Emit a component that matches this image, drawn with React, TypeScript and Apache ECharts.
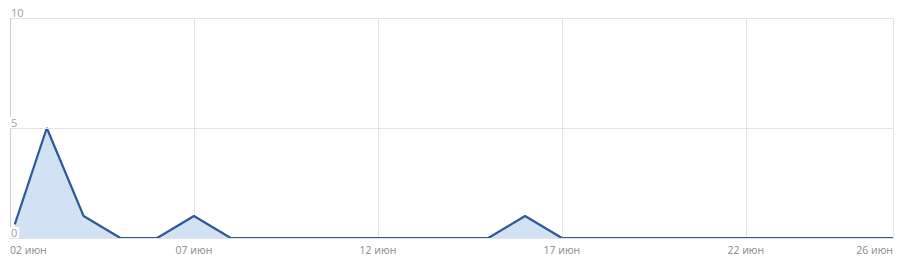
import React, { useEffect, useRef } from "react";
import * as echarts from "echarts";

const dateLabels = [
  "02 июн", "03 июн", "04 июн", "05 июн", "06 июн", "07 июн", "08 июн", "09 июн",
  "10 июн", "11 июн", "12 июн", "13 июн", "14 июн", "15 июн", "16 июн", "17 июн",
  "18 июн", "19 июн", "20 июн", "21 июн", "22 июн", "23 июн", "24 июн", "25 июн", "26 июн",
];
// day offset of each point from 02 июн (first sample starts a little after midnight)
const dayOffsets = [0.13, 1, 2, 3, 4, 5, 6, 7, 8, 9, 10, 11, 12, 13, 14, 15, 16, 17, 18, 19, 20, 21, 22, 23, 24];
const values = [0.62, 5, 1, 0, 0, 1, 0, 0, 0, 0, 0, 0, 0, 0, 1, 0, 0, 0, 0, 0, 0, 0, 0, 0, 0];
const yTicks = [0, 5, 10];

export default function App() {
  const ref = useRef<HTMLDivElement>(null);
  useEffect(() => {
    if (!ref.current) return;
    const chart = echarts.init(ref.current, null, { renderer: "svg" });
    const font = "'Open Sans', 'Noto Sans', sans-serif";
    chart.setOption({
      animation: false,
      grid: { left: 10, right: 7, top: 18, bottom: 24, containLabel: false },
      xAxis: {
        type: "value",
        min: 0,
        max: dateLabels.length - 1,
        interval: 5,
        axisLine: { show: true, lineStyle: { color: "#cfcfcf", width: 1 } },
        axisTick: { show: false },
        splitLine: { show: true, lineStyle: { color: "#e3e3e3", width: 1 } },
        axisLabel: {
          color: "#8a8a8a",
          fontSize: 10.5,
          fontFamily: font,
          margin: 6,
          alignMinLabel: "left",
          alignMaxLabel: "right",
          showMinLabel: true,
          showMaxLabel: true,
          formatter: (v: number) => dateLabels[Math.round(v)] ?? "",
        },
      },
      yAxis: {
        type: "value",
        min: yTicks[0],
        max: yTicks[yTicks.length - 1],
        interval: yTicks[1] - yTicks[0],
        axisLine: { show: true, lineStyle: { color: "#cfcfcf", width: 1 } },
        axisTick: { show: false },
        splitLine: { show: true, lineStyle: { color: "#e3e3e3", width: 1 } },
        axisLabel: {
          inside: true,
          margin: 0,
          verticalAlign: "bottom",
          color: "#a0a0a0",
          fontSize: 11,
          fontFamily: font,
          backgroundColor: "#ffffff",
          padding: [0, 2, 0, 1],
        },
        z: 5,
      },
      series: [
        {
          type: "line",
          data: values.map((v, i) => [dayOffsets[i], v]),
          symbol: "none",
          lineStyle: { color: "#2c5a98", width: 2.2 },
          areaStyle: { color: "#d2e1f3", opacity: 1 },
          z: 2,
        },
      ],
    });
    return () => chart.dispose();
  }, []);
  return (
    <div
      ref={ref}
      style={{ position: "fixed", left: 0, top: 0, width: 900, height: 262, background: "#fff" }}
    />
  );
}
